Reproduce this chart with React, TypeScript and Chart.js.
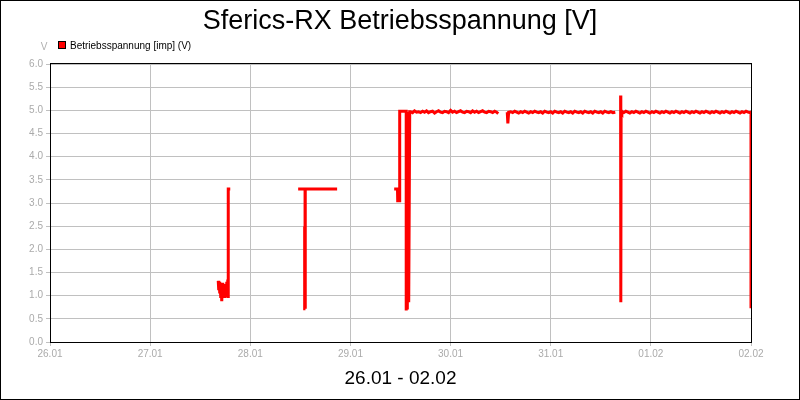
import React, { useEffect, useRef } from "react";
import { Chart, registerables } from "chart.js";

Chart.register(...registerables);

const FONT = "'Liberation Sans', Arial, Helvetica, sans-serif";

const TITLE = "Sferics-RX Betriebsspannung [V]";
const SERIES_LABEL = "Betriebsspannung [imp] (V)";
const Y_UNIT = "V";
const X_TITLE = "26.01 - 02.02";
const X_TICK_LABELS = ["26.01", "27.01", "28.01", "29.01", "30.01", "31.01", "01.02", "02.02"];

// x values: days since 26.01 00:00
const seg1X = [1.680, 1.685, 1.690, 1.695, 1.700, 1.705, 1.710, 1.715, 1.720, 1.725, 1.730, 1.735, 1.740, 1.745, 1.750, 1.755, 1.760, 1.765, 1.770, 1.775, 1.778, 1.780, 1.800];
const seg1Y = [1.32, 1.12, 1.30, 1.05, 1.25, 0.95, 1.20, 0.88, 1.15, 1.28, 1.02, 1.10, 0.98, 1.25, 1.05, 1.20, 1.00, 1.30, 1.02, 1.35, 0.98, 3.30, 3.30];

const seg2X = [2.478, 2.547, 2.547, 2.543, 2.543, 2.543, 2.551, 2.551, 2.551, 2.547, 2.547, 2.867];
const seg2Y = [3.30, 3.30, 2.46, 2.46, 0.72, 0.72, 0.72, 0.72, 2.46, 2.46, 3.30, 3.30];

const seg3X = [3.437, 3.470, 3.472, 3.490, 3.492, 3.557, 3.557, 3.566, 3.568, 3.578, 3.582, 3.592,
  3.60, 3.62, 3.64, 3.66, 3.68, 3.70, 3.72, 3.74, 3.76, 3.78, 3.80, 3.82, 3.84, 3.86, 3.88, 3.90, 3.92, 3.94, 3.96, 3.98,
  4.00, 4.02, 4.04, 4.06, 4.08, 4.10, 4.12, 4.14, 4.16, 4.18, 4.20, 4.22, 4.24, 4.26, 4.28, 4.30, 4.32, 4.34, 4.36, 4.38,
  4.40, 4.42, 4.44, 4.46, 4.476];
const seg3Y = [3.30, 3.30, 3.05, 3.05, 4.98, 4.98, 0.68, 4.97, 0.70, 4.97, 0.86, 4.97,
  4.97, 4.95, 4.99, 4.96, 4.97, 4.95, 4.98, 4.96, 4.99, 4.95, 4.97, 4.98, 4.94, 4.97, 4.99, 4.96, 4.95, 4.98, 4.97, 4.95,
  5.00, 4.96, 4.98, 4.95, 4.97, 4.99, 4.96, 4.95, 4.98, 4.97, 4.95, 4.99, 4.96, 4.98, 4.95, 4.97, 4.99, 4.96, 4.95, 4.98,
  4.97, 4.95, 4.98, 4.96, 4.93];

const seg4X = [4.566, 4.572, 4.580, 4.60, 4.62, 4.64, 4.66, 4.68, 4.70, 4.72, 4.74, 4.76, 4.78, 4.80, 4.82, 4.84, 4.86, 4.88,
  4.90, 4.92, 4.94, 4.96, 4.98, 5.00, 5.02, 5.04, 5.06, 5.08, 5.10, 5.12, 5.14, 5.16, 5.18, 5.20, 5.22, 5.24, 5.26, 5.28,
  5.30, 5.32, 5.34, 5.36, 5.38, 5.40, 5.42, 5.44, 5.46, 5.48, 5.50, 5.52, 5.54, 5.56, 5.58, 5.60, 5.62, 5.645];
const seg4Y = [4.96, 4.72, 4.96, 4.97, 4.95, 4.98, 4.96, 4.94, 4.97, 4.95, 4.98, 4.96, 4.94, 4.97, 4.95, 4.98, 4.96, 4.95,
  4.97, 4.94, 4.98, 4.96, 4.95, 4.97, 4.94, 4.98, 4.96, 4.95, 4.97, 4.94, 4.98, 4.96, 4.95, 4.97, 4.94, 4.98, 4.96, 4.95,
  4.97, 4.94, 4.98, 4.96, 4.95, 4.97, 4.94, 4.98, 4.96, 4.95, 4.97, 4.94, 4.98, 4.96, 4.95, 4.97, 4.95, 4.96];

const seg5X = [5.698, 5.700, 5.703, 5.710, 5.73, 5.75, 5.77, 5.79, 5.81, 5.83, 5.85, 5.87, 5.89, 5.91, 5.93, 5.95, 5.97, 5.99,
  6.01, 6.03, 6.05, 6.07, 6.09, 6.11, 6.13, 6.15, 6.17, 6.19, 6.21, 6.23, 6.25, 6.27, 6.29, 6.31, 6.33, 6.35, 6.37, 6.39,
  6.41, 6.43, 6.45, 6.47, 6.49, 6.51, 6.53, 6.55, 6.57, 6.59, 6.61, 6.63, 6.65, 6.67, 6.69, 6.71, 6.73, 6.75, 6.77, 6.79,
  6.81, 6.83, 6.85, 6.87, 6.89, 6.91, 6.93, 6.95, 6.97, 6.99, 7.00, 7.00];
const seg5Y = [5.32, 0.86, 5.00, 4.97, 4.95, 4.98, 4.96, 4.94, 4.97, 4.95, 4.98, 4.96, 4.94, 4.97, 4.95, 4.98, 4.96, 4.94,
  4.97, 4.95, 4.98, 4.96, 4.94, 4.97, 4.95, 4.98, 4.96, 4.94, 4.97, 4.95, 4.98, 4.96, 4.94, 4.97, 4.95, 4.98, 4.96, 4.94,
  4.97, 4.95, 4.98, 4.96, 4.94, 4.97, 4.95, 4.98, 4.96, 4.94, 4.97, 4.95, 4.98, 4.96, 4.94, 4.97, 4.95, 4.98, 4.96, 4.94,
  4.97, 4.95, 4.98, 4.96, 4.94, 4.97, 4.95, 4.98, 4.96, 4.95, 4.96, 0.73];

const SEGMENTS: [number[], number[]][] = [
  [seg1X, seg1Y],
  [seg2X, seg2Y],
  [seg3X, seg3Y],
  [seg4X, seg4Y],
  [seg5X, seg5Y],
];

function buildPoints() {
  const pts: { x: number; y: number | null }[] = [];
  SEGMENTS.forEach(([xs, ys], i) => {
    if (i > 0) {
      const prev = SEGMENTS[i - 1][0];
      pts.push({ x: (prev[prev.length - 1] + xs[0]) / 2, y: null });
    }
    xs.forEach((x, j) => pts.push({ x, y: ys[j] }));
  });
  return pts;
}

const decor = {
  id: "decor",
  beforeDatasetsDraw(chart: any) {
    const { ctx, chartArea: a } = chart;
    ctx.save();
    ctx.strokeStyle = "#000";
    ctx.lineWidth = 1;
    ctx.strokeRect(Math.round(a.left) + 0.5, Math.round(a.top) - 0.5, Math.round(a.right - a.left), Math.round(a.bottom - a.top) + 1);
    ctx.restore();
  },
  afterDraw(chart: any) {
    const { ctx } = chart;
    ctx.save();
    // outer frame
    ctx.strokeStyle = "#000";
    ctx.lineWidth = 1;
    ctx.strokeRect(0.5, 0.5, 799, 399);
    // title
    ctx.fillStyle = "#000";
    ctx.font = `27px ${FONT}`;
    ctx.textAlign = "center";
    ctx.textBaseline = "alphabetic";
    ctx.fillText(TITLE, 400, 29);
    // legend
    ctx.fillStyle = "#ff0000";
    ctx.fillRect(58, 41, 8, 8);
    ctx.strokeStyle = "#000";
    ctx.strokeRect(58.5, 41.5, 7, 7);
    ctx.fillStyle = "#000";
    ctx.font = `10px ${FONT}`;
    ctx.textAlign = "left";
    ctx.fillText(SERIES_LABEL, 70, 48.5);
    // unit label
    ctx.fillStyle = "#b0b0b0";
    ctx.textAlign = "center";
    ctx.fillText(Y_UNIT, 44, 50);
    ctx.restore();
  },
};

export default function App() {
  const ref = useRef<HTMLCanvasElement>(null);
  useEffect(() => {
    if (!ref.current) return;
    const chart = new Chart(ref.current, {
      type: "line",
      data: {
        datasets: [
          {
            label: SERIES_LABEL,
            data: buildPoints() as any,
            borderColor: "#ff0000",
            backgroundColor: "#ff0000",
            borderWidth: 3,
            pointRadius: 0,
            tension: 0,
            spanGaps: false,
          },
        ],
      },
      options: {
        responsive: false,
        animation: false,
        devicePixelRatio: 1,
        layout: { padding: { top: 64, left: 0, right: 49, bottom: 0 } },
        plugins: {
          legend: { display: false },
          tooltip: { enabled: false },
          title: { display: false },
        },
        scales: {
          x: {
            type: "linear",
            min: 0,
            max: 7,
            afterFit: (s: any) => { s.height = 58; },
            ticks: {
              stepSize: 1,
              color: "#aaaaaa",
              font: { family: FONT, size: 10 },
              padding: 2,
              maxRotation: 0,
              callback: (v: any) => X_TICK_LABELS[Math.round(Number(v))] ?? "",
            },
            grid: { color: "#c0c0c0", tickLength: 4 },
            border: { color: "#000" },
            title: {
              display: true,
              text: X_TITLE,
              color: "#000",
              font: { family: FONT, size: 19 },
              padding: { top: 0, bottom: 10 },
            },
          },
          y: {
            min: 0,
            max: 6,
            afterFit: (s: any) => { s.width = 50; },
            ticks: {
              stepSize: 0.5,
              color: "#aaaaaa",
              font: { family: FONT, size: 10 },
              padding: 3,
              callback: (v: any) => Number(v).toFixed(1),
            },
            grid: { color: "#c0c0c0", tickLength: 4 },
            border: { color: "#000" },
          },
        },
      },
      plugins: [decor],
    });
    return () => chart.destroy();
  }, []);
  return (
    <div style={{ position: "absolute", left: 0, top: 0, width: 800, height: 400, background: "#fff" }}>
      <canvas ref={ref} width={800} height={400} />
    </div>
  );
}
